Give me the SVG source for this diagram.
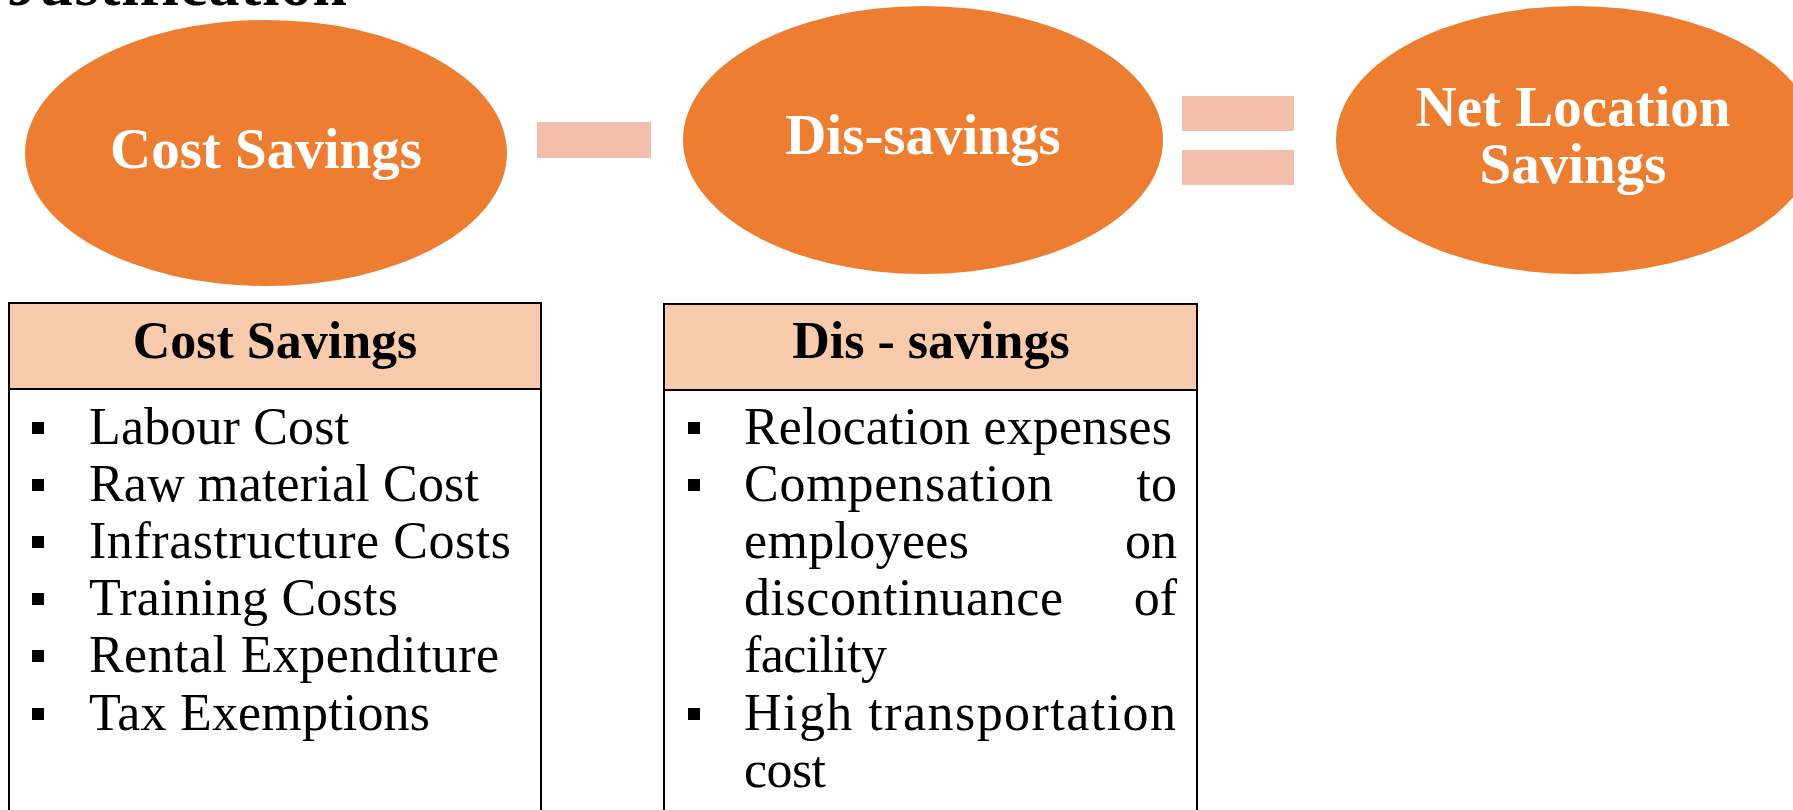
<svg xmlns="http://www.w3.org/2000/svg" width="1793" height="810" viewBox="0 0 1793 810">
<style>
.ell{fill:#ED7D31}
.op{fill:#F4BEAC}
.et{font-family:"Liberation Serif",serif;font-weight:bold;fill:#fff;font-size:57px;text-anchor:middle}
.hd{fill:#F8CBAD;stroke:#000;stroke-width:2}
.bx{fill:#fff;stroke:#000;stroke-width:2}
.ht{font-family:"Liberation Serif",serif;font-weight:bold;fill:#000;font-size:52px;text-anchor:middle}
.li{font-family:"Liberation Serif",serif;fill:#000;font-size:52px}
.bl{fill:#000}
.ti{font-family:"Liberation Serif",serif;font-weight:bold;fill:#000;font-size:62px}
</style>
<text class="ti" x="7" y="5" textLength="340">Justification</text>
<g id="connectors">
<rect class="op" x="537" y="122" width="114" height="36"/>
<rect class="op" x="1182" y="96" width="112" height="35"/>
<rect class="op" x="1182" y="150" width="112" height="35"/>
</g>
<g id="node-cost-savings">
<ellipse class="ell" cx="266" cy="153" rx="241" ry="133"/>
<text class="et" x="266" y="168">Cost Savings</text>
</g>
<g id="node-dis-savings">
<ellipse class="ell" cx="923" cy="140" rx="240" ry="134"/>
<text class="et" x="923" y="154">Dis-savings</text>
</g>
<g id="node-net">
<ellipse class="ell" cx="1576" cy="140" rx="240" ry="134"/>
<text class="et" x="1573" y="126">Net Location</text>
<text class="et" x="1573" y="183">Savings</text>
</g>
<g id="box-cost-savings">
<path class="bx" d="M9 389 V812 M541 389 V812"/>
<rect class="hd" x="9" y="303" width="532" height="86"/>
<text class="ht" x="275" y="358">Cost Savings</text>
<rect class="bl" x="32" y="422" width="12" height="12"/>
<text class="li" x="89" y="444" textLength="260">Labour Cost</text>
<rect class="bl" x="32" y="479" width="12" height="12"/>
<text class="li" x="89" y="501" textLength="390">Raw material Cost</text>
<rect class="bl" x="32" y="536" width="12" height="12"/>
<text class="li" x="89" y="558" textLength="422">Infrastructure Costs</text>
<rect class="bl" x="32" y="593" width="12" height="12"/>
<text class="li" x="89" y="615" textLength="309">Training Costs</text>
<rect class="bl" x="32" y="650" width="12" height="12"/>
<text class="li" x="89" y="672" textLength="410">Rental Expenditure</text>
<rect class="bl" x="32" y="708" width="12" height="12"/>
<text class="li" x="89" y="730" textLength="341">Tax Exemptions</text>
</g>
<g id="box-dis-savings">
<path class="bx" d="M664 390 V812 M1197 390 V812"/>
<rect class="hd" x="664" y="304" width="533" height="86"/>
<text class="ht" x="931" y="358">Dis - savings</text>
<rect class="bl" x="688" y="422" width="12" height="12"/>
<text class="li" x="744" y="444" textLength="428">Relocation expenses</text>
<rect class="bl" x="688" y="479" width="12" height="12"/>
<text class="li" x="744" y="501" textLength="309">Compensation</text>
<text class="li" x="1177" y="501" text-anchor="end">to</text>
<text class="li" x="744" y="558" textLength="225">employees</text>
<text class="li" x="1177" y="558" text-anchor="end">on</text>
<text class="li" x="744" y="615" textLength="319">discontinuance</text>
<text class="li" x="1177" y="615" text-anchor="end">of</text>
<text class="li" x="744" y="672" textLength="143">facility</text>
<rect class="bl" x="688" y="708" width="12" height="12"/>
<text class="li" x="744" y="730" textLength="432">High transportation</text>
<text class="li" x="744" y="787" textLength="82">cost</text>
</g>
</svg>
